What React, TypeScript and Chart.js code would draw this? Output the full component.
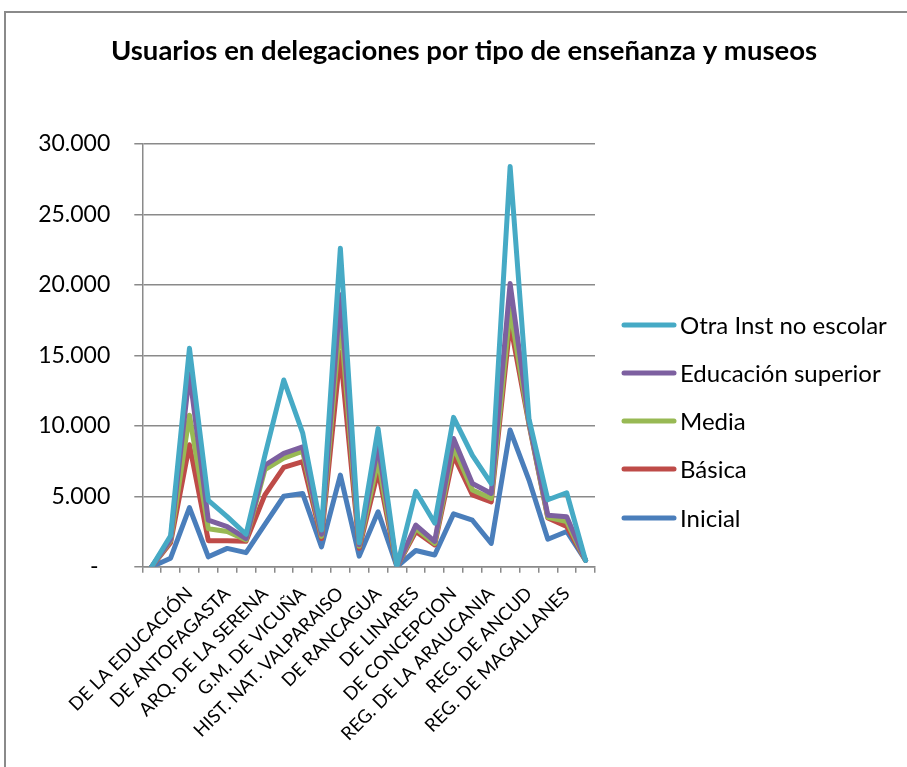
import React, { useEffect, useRef } from 'react';
import { Chart, registerables } from 'chart.js';

Chart.register(...registerables);

const chartTitle = 'Usuarios en delegaciones por tipo de enseñanza y museos';

const categories = [
  '',
  'DEL CARMEN DE MAIPÚ',
  'DE LA EDUCACIÓN',
  'REG. DE ATACAMA',
  'DE ANTOFAGASTA',
  'DEL LIMARÍ',
  'ARQ. DE LA SERENA',
  'HIST. G. GONZÁLEZ VIDELA',
  'G.M. DE VICUÑA',
  'ANT. P. S. ENGLERT',
  'HIST. NAT. VALPARAISO',
  "O'HIGGINIANO DE TALCA",
  'DE RANCAGUA',
  'HIST. DE YERBAS BUENAS',
  'DE LINARES',
  'MAPUCHE DE CAÑETE',
  'DE CONCEPCION',
  'DE ANGOL',
  'REG. DE LA ARAUCANIA',
  'CASTILLO DE NIEBLA',
  'REG. DE ANCUD',
  'REG. DE AYSÉN',
  'REG. DE MAGALLANES',
  'MARTÍN GUSINDE',
];

// Individual series values (the chart stacks them)
const inicial = [0, 600, 4200, 700, 1300, 1000, 3000, 5000, 5200, 1400, 6500, 750, 3900, 0, 1150, 830, 3750, 3300, 1650, 9700, 6150, 1950, 2500, 450];
const basica = [0, 1100, 4450, 1150, 550, 800, 2100, 2050, 2250, 600, 8700, 550, 2900, 0, 1350, 720, 4150, 1800, 2950, 7600, 3950, 1500, 350, 0];
const media = [0, 150, 2100, 850, 650, 100, 1800, 650, 750, 150, 2400, 150, 800, 0, 200, 100, 600, 350, 250, 1000, 100, 50, 350, 0];
const superior = [0, 100, 2950, 600, 350, 100, 300, 350, 300, 150, 1700, 100, 1000, 0, 250, 150, 600, 450, 350, 1800, 100, 150, 350, 0];
const otra = [0, 250, 1800, 1400, 700, 300, 700, 5200, 1000, 300, 3300, 150, 1200, 0, 2400, 1300, 1500, 2000, 700, 8300, 200, 1100, 1700, 0];

const seriesNames = ['Inicial', 'Básica', 'Media', 'Educación superior', 'Otra Inst no escolar'];
const seriesColors = ['#4A7EBB', '#BE4B48', '#98B954', '#7D60A0', '#46AAC5'];

const yTicks = [0, 5000, 10000, 15000, 20000, 25000, 30000];
const yTickLabels = ['-  ', '5.000', '10.000', '15.000', '20.000', '25.000', '30.000'];

const GRID = '#8a8a8a';
const FONT = 'Lato, "Open Sans", sans-serif';

export default function App() {
  const ref = useRef<HTMLCanvasElement>(null);

  useEffect(() => {
    const stack = [inicial, basica, media, superior, otra];
    const cumulative = stack.map((_, k) =>
      categories.map((__, i) => stack.slice(0, k + 1).reduce((s, arr) => s + arr[i], 0))
    );
    const datasets = [4, 3, 2, 1, 0].map((k) => ({
      label: seriesNames[k],
      data: cumulative[k],
      borderColor: seriesColors[k],
      backgroundColor: seriesColors[k],
      borderWidth: 5,
      pointRadius: 0,
      pointHoverRadius: 0,
      tension: 0,
      borderJoinStyle: 'round' as const,
      borderCapStyle: 'round' as const,
      fill: false,
    }));

    const overlay = {
      id: 'overlay',
      afterDraw(chart: any) {
        const ctx = chart.ctx;
        ctx.save();
        ctx.fillStyle = '#000';
        ctx.font = `bold 27.5px ${FONT}`;
        ctx.textAlign = 'center';
        ctx.textBaseline = 'middle';
        ctx.fillText(chartTitle, 458, 38);

        const ys = [312, 360, 408, 456, 505];
        const order = [4, 3, 2, 1, 0];
        ctx.font = `24px ${FONT}`;
        ctx.textAlign = 'left';
        order.forEach((k, j) => {
          ctx.strokeStyle = seriesColors[k];
          ctx.lineWidth = 5;
          ctx.lineCap = 'round';
          ctx.beginPath();
          ctx.moveTo(618, ys[j]);
          ctx.lineTo(668, ys[j]);
          ctx.stroke();
          ctx.fillStyle = '#000';
          ctx.fillText(seriesNames[k], 674, ys[j] + 1);
        });
        ctx.restore();
      },
    };

    const chart = new Chart(ref.current as HTMLCanvasElement, {
      type: 'line',
      data: { labels: categories, datasets },
      options: {
        responsive: false,
        animation: false,
        devicePixelRatio: 1,
        layout: { padding: { top: 131, right: 312, bottom: 0, left: 0 } },
        plugins: {
          legend: { display: false },
          title: { display: false },
          tooltip: { enabled: false },
        },
        scales: {
          x: {
            type: 'category',
            offset: true,
            grid: {
              offset: true,
              drawOnChartArea: false,
              drawTicks: true,
              tickLength: 6,
              color: GRID,
              lineWidth: 1.5,
            },
            border: { color: GRID, width: 1.5 },
            ticks: {
              autoSkip: false,
              maxRotation: 45,
              minRotation: 45,
              padding: 10,
              color: '#000',
              font: { family: FONT, size: 18.5 },
              callback: (_v: any, i: number) => (i % 2 === 0 ? categories[i] : ''),
            },
            afterFit: (scale: any) => {
              scale.height = 200.3;
            },
          },
          y: {
            min: 0,
            max: 30000,
            grid: {
              color: GRID,
              lineWidth: 1.5,
              drawTicks: true,
              tickLength: 8,
            },
            border: { color: GRID, width: 1.5 },
            ticks: {
              stepSize: 5000,
              padding: 24,
              color: '#000',
              font: { family: FONT, size: 23 },
              callback: (v: any) => yTickLabels[yTicks.indexOf(Number(v))],
            },
            afterFit: (scale: any) => {
              scale.width = 136.3;
            },
          },
        },
      },
      plugins: [overlay],
    });
    return () => chart.destroy();
  }, []);

  return (
    <div
      style={{
        position: 'absolute',
        left: 4,
        top: 11,
        width: 901,
        height: 754,
        borderLeft: '2px solid #8a8a8a',
        borderTop: '2px solid #8a8a8a',
        background: '#fff',
      }}
    >
      <canvas ref={ref} width={901} height={754} style={{ display: 'block', width: 901, height: 754 }} />
    </div>
  );
}
